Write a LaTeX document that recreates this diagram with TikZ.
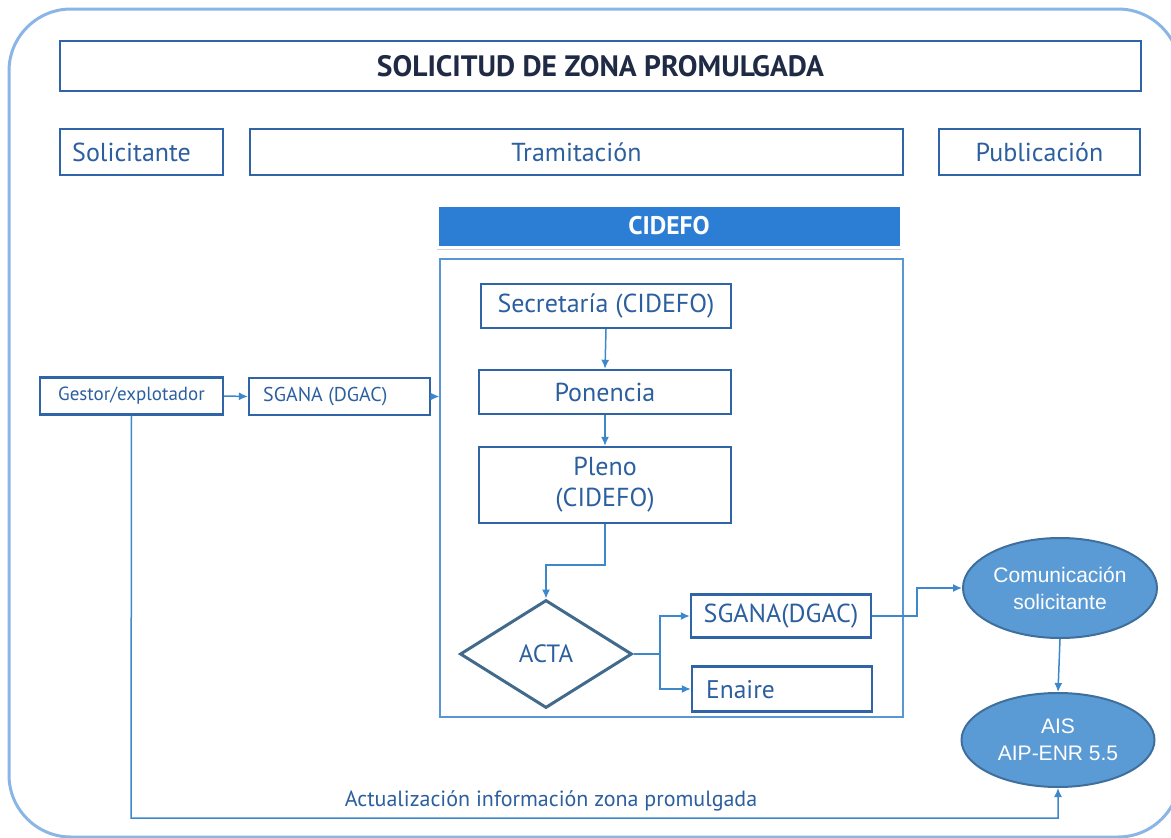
\documentclass[tikz,border=0pt]{standalone}
\usepackage{fontspec}
\setmainfont{PT Sans}
\newfontfamily\arialf{Liberation Sans}
\usetikzlibrary{shapes.geometric,arrows.meta,shadows}
\definecolor{boxline}{HTML}{2F65A7}
\definecolor{txtc}{HTML}{2C5F9E}
\definecolor{titlec}{HTML}{1F2A44}
\definecolor{arrc}{HTML}{3D87CB}
\definecolor{framec}{HTML}{8AB6E6}
\definecolor{contc}{HTML}{5A97D2}
\definecolor{cidefoc}{HTML}{2B7ED3}
\definecolor{diac}{HTML}{416A8C}
\definecolor{ellf}{HTML}{5B9BD5}
\definecolor{elld}{HTML}{3F6F9C}
\tikzset{
  bx/.style={draw=boxline, line width=2.4pt, text=txtc, inner sep=0pt, font=\fontsize{26}{31}\selectfont, align=center},
  smallbx/.style={bx, line width=2.2pt, font=\fontsize{19}{22}\selectfont},
  ell/.style={ellipse, draw=elld, line width=2pt, fill=ellf, text=white, inner sep=0pt, align=center, font=\arialf\fontsize{21}{27}\selectfont},
  arr/.style={draw=arrc, line width=1.5pt, -{Latex[length=9pt,width=8pt]}},
  ln/.style={draw=arrc, line width=1.5pt}
}
\begin{document}
\begin{tikzpicture}[x=1pt,y=-1pt]
\useasboundingbox (0,0) rectangle (1171,838);
% outer frame
\draw[framec, line width=3pt, rounded corners=62pt] (9,9) rectangle (1180,837);
% header
\node[bx, minimum width=1081pt, minimum height=50pt, text=titlec, font=\bfseries\fontsize{29.5}{34}\selectfont] (title) at (600.5,66) {SOLICITUD DE ZONA PROMULGADA};
\node[bx, minimum width=163pt, minimum height=46pt] (sol) at (141.5,152) {};
\node[text=txtc, font=\fontsize{26}{31}\selectfont, anchor=west, inner sep=0pt] (solt) at (72,152) {Solicitante};
\node[bx, minimum width=653pt, minimum height=46pt] (tram) at (576.5,152) {Tramitación};
\node[bx, minimum width=201pt, minimum height=46pt] (pub) at (1039.5,152) {Publicación};
% CIDEFO
\node[fill=cidefoc, draw=white, line width=3pt, minimum width=464pt, minimum height=42pt, text=white, font=\bfseries\fontsize{25.5}{30}\selectfont, drop shadow={shadow xshift=0pt, shadow yshift=-3pt, fill=black!35}] (cidefo) at (669,226) {CIDEFO};
\node[draw=contc, line width=1.2pt, minimum width=463pt, minimum height=458pt, inner sep=0pt] (cont) at (671.5,488) {};
\node[bx, minimum width=250pt, minimum height=44pt] (sec) at (606,306) {Secretaría (CIDEFO)};
\node[bx, minimum width=252pt, minimum height=44pt] (pon) at (605,392) {Ponencia};
\node[bx, minimum width=252pt, minimum height=76pt, font=\fontsize{26}{31}\selectfont] (pleno) at (605,485) {Pleno\\(CIDEFO)};
\node[diamond, draw=diac, line width=3pt, minimum width=172pt, minimum height=108pt, inner sep=0pt, text=txtc, font=\fontsize{25}{30}\selectfont] (acta) at (546,654) {ACTA};
\node[bx, minimum width=180pt, minimum height=43pt] (sg2) at (781,616) {SGANA(DGAC)};
\node[bx, minimum width=180pt, minimum height=45pt] (ena) at (782,689) {};
\node[text=txtc, font=\fontsize{25.5}{30}\selectfont, anchor=west, inner sep=0pt] (enat) at (706,690) {Enaire};
% left side
\node[smallbx, minimum width=183pt, minimum height=37pt] (gest) at (131.5,396) {Gestor/explotador};
\node[smallbx, minimum width=181pt, minimum height=37pt] (sg1) at (339.5,396.5) {};
\node[text=txtc, font=\fontsize{20}{24}\selectfont, anchor=west, inner sep=0pt] (sg1t) at (263,397) {SGANA (DGAC)};
% ellipses
\node[ell, minimum width=194pt, minimum height=100pt] (com) at (1060,588) {Comunicación\\solicitante};
\node[ell, minimum width=193pt, minimum height=94pt] (ais) at (1058,740) {AIS\\AIP-ENR 5.5};
% connectors
\draw[arr] (gest.east) -- (sg1.west);
\draw[arr] (sg1.east) -- (sg1.east -| cont.west);
\draw[arr] (sec.south) -- (pon.north);
\draw[arr] (pon.south) -- (pleno.north);
\coordinate (pj) at (605,565);
\draw[arr] (pleno.south) -- (pj) -| (acta.north);
\coordinate (aj) at (660,654);
\draw[ln] (acta.east) -- (aj);
\draw[arr] (aj) |- (sg2.west);
\draw[arr] (aj) |- (ena.west);
\coordinate (sj) at (917,616);
\draw[arr] (sg2.east) -- (sj) |- (com.west);
\draw[arr] (com.south) -- (ais.north);
\coordinate (bj) at (131,818);
\draw[arr] (gest.south) -- (bj) -| (ais.south);
\node[text=txtc, font=\fontsize{22}{26}\selectfont, inner sep=0pt] (lbl) at (551,801) {Actualización información zona promulgada};
\end{tikzpicture}
\end{document}
